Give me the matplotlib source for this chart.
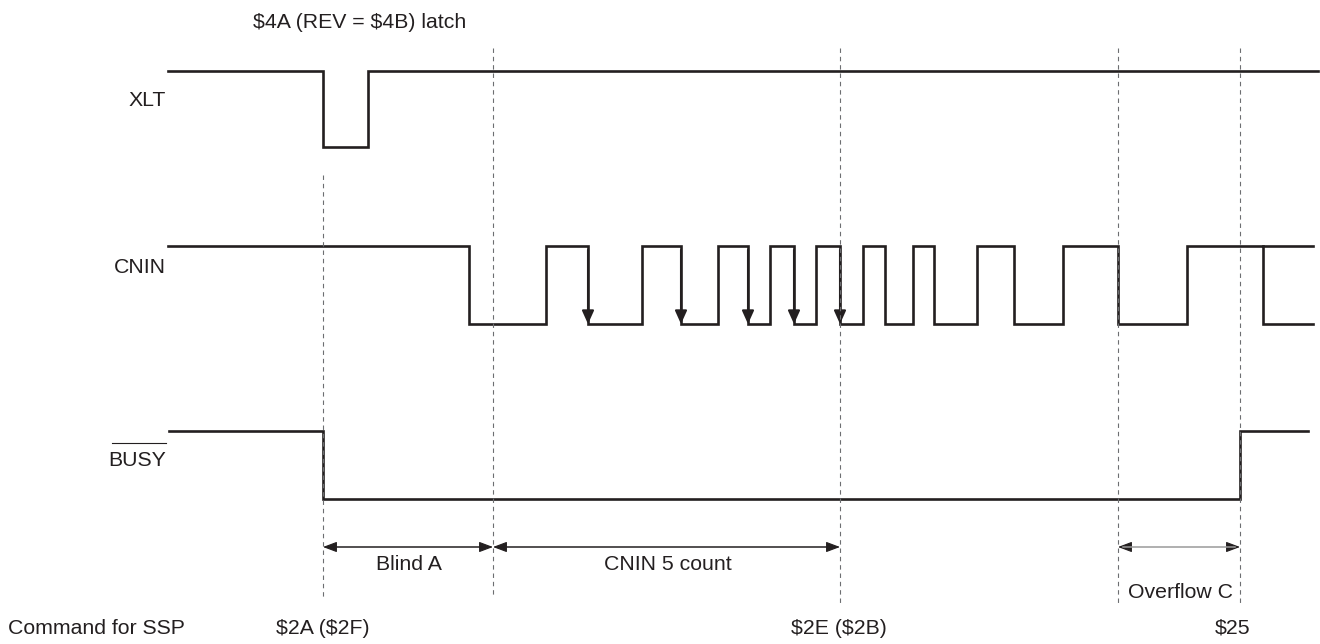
import matplotlib
matplotlib.use('Agg')
import matplotlib.pyplot as plt
from matplotlib.patches import FancyArrowPatch

plt.rcParams['font.family'] = ['Liberation Sans', 'DejaVu Sans']
plt.rcParams['text.parse_math'] = False

# signal edges (pixel x of each transition), start level high
xlt_edges = [323, 368]
cnin_edges = [469, 546, 588, 642, 681, 718, 748, 770, 794, 816, 840,
              863, 885, 913, 934, 977, 1014, 1063, 1118, 1187, 1263]
busy_edges = [323, 1240]
count_edges = [588, 681, 748, 794, 840]   # falling edges that get counted

markers = [323, 493, 840, 1118, 1240]
spans = [(323, 493, 'Blind A'), (493, 840, 'CNIN 5 count'), (1118, 1240, 'Overflow C')]
commands = [('$2A ($2F)', 323), ('$2E ($2B)', 839), ('$25', 1233)]

# rows: name, edges, x start, x end, y high, y low, label y
rows = [('XLT', xlt_edges, 168, 1318, 71, 147, 100),
        ('CNIN', cnin_edges, 168, 1313, 246, 324, 267),
        ('BUSY', busy_edges, 169, 1308, 431, 499, 460)]

ink = '#231f20'
fig = plt.figure(figsize=(13.2, 6.44), dpi=100)
ax = fig.add_axes([0, 0, 1, 1])
ax.set_xlim(0, 1320)
ax.set_ylim(644, 0)
ax.axis('off')

def step(edges, x0, x1, hi, lo):
    xs, ys = [x0], [hi]
    lvl = hi
    for e in edges:
        nxt = lo if lvl == hi else hi
        xs += [e, e]
        ys += [lvl, nxt]
        lvl = nxt
    xs.append(x1)
    ys.append(lvl)
    return xs, ys

fs = 15.3
for name, edges, x0, x1, hi, lo, ly in rows:
    xs, ys = step(edges, x0, x1, hi, lo)
    ax.plot(xs, ys, color=ink, lw=1.9, solid_joinstyle='miter')
    ax.text(166, ly, name, fontsize=fs, ha='right', va='center', color=ink)

# CNIN: both levels continue after the last edge
ax.plot([cnin_edges[-1], 1313], [246, 246], color=ink, lw=1.9)

# overline on BUSY
ax.plot([112, 166], [443, 443], color=ink, lw=0.8)

# count arrows on CNIN falling edges
for x in count_edges:
    ax.add_patch(FancyArrowPatch((x, 250), (x, 324), arrowstyle='-|>,head_length=8,head_width=3.6',
                                 mutation_scale=1, color=ink, lw=1.5, shrinkA=0, shrinkB=0))

# dashed marker lines
for x in markers:
    top = 175 if x == 323 else 48
    bot = 597 if x in (323, 493) else 605
    ax.plot([x, x], [top, bot], color='#6d6e71', lw=0.8, dashes=(4, 3.5))

# dimension arrows
for a, b, lab in spans:
    shaft = '#9a9a9a' if lab == 'Overflow C' else ink
    ax.plot([a + 5, b - 5], [547, 547], color=shaft, lw=1.1)
    for s, e in ((a + 12, a), (b - 12, b)):
        ax.add_patch(FancyArrowPatch((s, 547), (e, 547), arrowstyle='-|>,head_length=8.5,head_width=3.2',
                                     mutation_scale=1, color=ink, lw=0.8, shrinkA=0, shrinkB=0))
    ty = 592 if lab == 'Overflow C' else 564
    ax.text((a + b) / 2 + 1, ty, lab, fontsize=fs, ha='center', va='center', color=ink)

ax.text(253, 22, '$4A (REV = $4B) latch', fontsize=fs, ha='left', va='center', color=ink)
ax.text(8, 628, 'Command for SSP', fontsize=fs, ha='left', va='center', color=ink)
for lab, x in commands:
    ax.text(x, 628, lab, fontsize=fs, ha='center', va='center', color=ink)

fig.savefig('out.png', dpi=100)
